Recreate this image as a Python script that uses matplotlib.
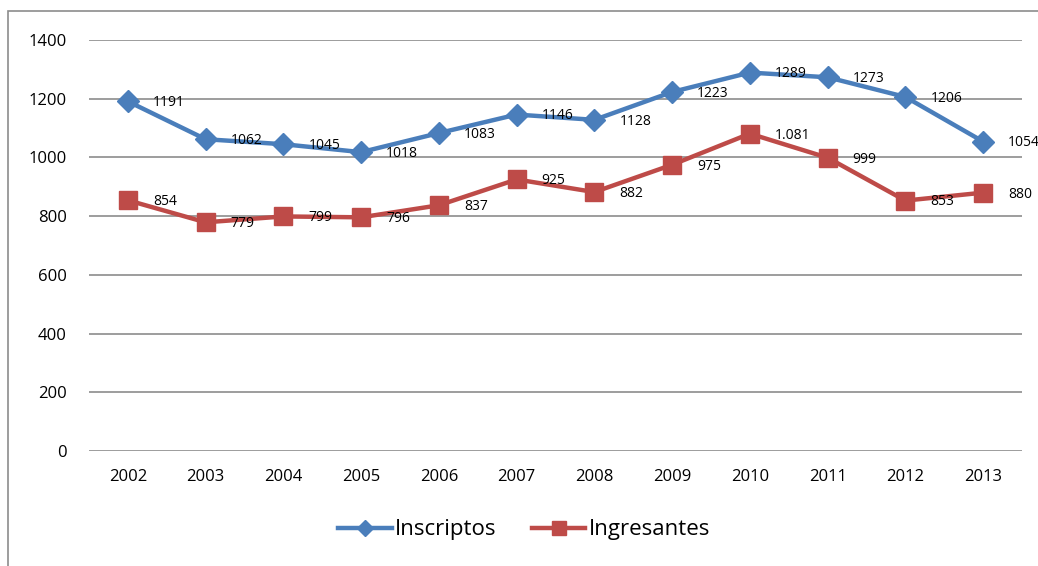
import matplotlib.pyplot as plt
from matplotlib.patches import Rectangle

years = ["2002", "2003", "2004", "2005", "2006", "2007", "2008", "2009", "2010", "2011", "2012", "2013"]
inscriptos = [1191, 1062, 1045, 1018, 1083, 1146, 1128, 1223, 1289, 1273, 1206, 1054]
ingresantes = [854, 779, 799, 796, 837, 925, 882, 975, 1081, 999, 853, 880]
ingresantes_labels = ["854", "779", "799", "796", "837", "925", "882", "975", "1.081", "999", "853", "880"]

plt.rcParams['font.family'] = ['Open Sans', 'DejaVu Sans']

fig = plt.figure(figsize=(10.38, 5.66), dpi=100)
ax = fig.add_axes([89 / 1038, 1 - 451 / 566, (1022 - 89) / 1038, (451 - 40) / 566])

# outer chart frame (cut off on the right and bottom)
fig.patches.append(Rectangle((8 / 1038, -0.1), 1.2, 1.1 - 11 / 566,
                             transform=fig.transFigure, fill=False,
                             edgecolor="#8c8c8c", linewidth=1.2))

x = list(range(len(years)))
ax.plot(x, inscriptos, color="#4A7EBB", linewidth=3.2, marker="D", markersize=11,
        label="Inscriptos", clip_on=False, zorder=3)
ax.plot(x, ingresantes, color="#BE4B48", linewidth=3.2, marker="s", markersize=13,
        label="Ingresantes", clip_on=False, zorder=3)

for i, v in enumerate(inscriptos):
    ax.annotate(str(v), (i, v), xytext=(18, -1), textcoords="offset points",
                ha="left", va="center", fontsize=10, annotation_clip=False)
for i, v in enumerate(ingresantes):
    ax.annotate(ingresantes_labels[i], (i, v), xytext=(18, -1), textcoords="offset points",
                ha="left", va="center", fontsize=10, annotation_clip=False)

ax.set_xlim(-0.5, len(years) - 0.5)
ax.set_ylim(0, 1400)
ax.set_yticks(range(0, 1401, 200))
ax.set_xticks(x)
ax.set_xticklabels(years)
ax.tick_params(length=0, labelsize=12)
ax.tick_params(axis="x", pad=13)
ax.tick_params(axis="y", pad=16)
ax.grid(axis="y", color="#8c8c8c", linewidth=1.2)
ax.set_axisbelow(True)
for s in ax.spines.values():
    s.set_visible(False)

fig.legend(loc="center", bbox_to_anchor=(0.505, 1 - 530 / 566), ncol=2, frameon=False,
           fontsize=16, handlelength=2.4, handletextpad=0.15, columnspacing=1.6,
           markerscale=0.75)

fig.savefig("out.png", dpi=100)
